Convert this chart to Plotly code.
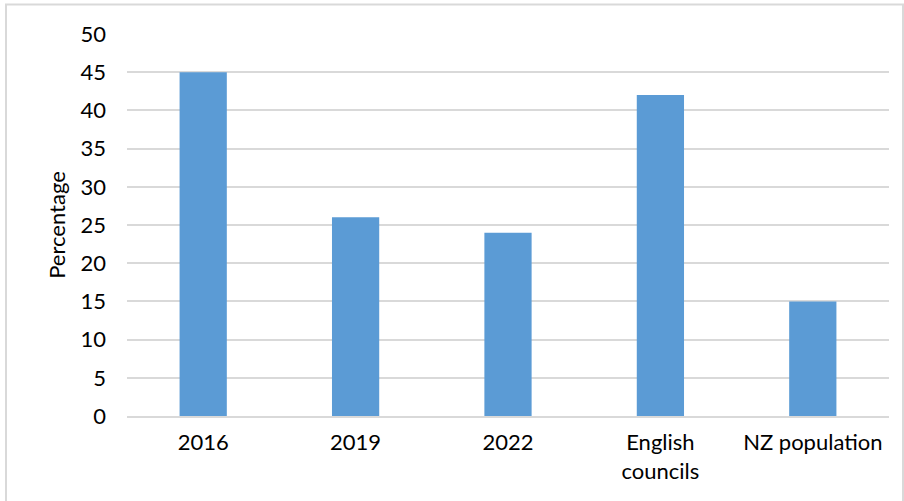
import plotly.graph_objects as go

categories = ["2016", "2019", "2022", "English<br>councils", "NZ population"]
percentages = [45, 26, 24, 42, 15]
y_ticks = [0, 5, 10, 15, 20, 25, 30, 35, 40, 45, 50]

W, H = 904, 501
L, R, T, B = 127, 15, 34, 85
pw, ph = W - L - R, H - T - B
FS = 22

fig = go.Figure(
    go.Bar(
        x=categories,
        y=percentages,
        marker=dict(color="#5B9BD5", line=dict(width=0)),
        hoverinfo="x+y",
    )
)

# outer chart border (bottom edge runs off the page)
fig.add_shape(
    type="rect",
    xref="paper", yref="paper",
    x0=(6 - L) / pw, x1=(903 - L) / pw,
    y0=(416 - 512) / ph, y1=(416 - 4.5) / ph,
    line=dict(color="#D9D9D9", width=2),
    fillcolor="rgba(0,0,0,0)",
    layer="below",
)

fig.update_layout(
    width=W, height=H,
    margin=dict(l=L, r=R, t=T, b=B),
    paper_bgcolor="white",
    plot_bgcolor="white",
    bargap=0.69,
    showlegend=False,
    font=dict(family="Lato, Open Sans, sans-serif", size=FS, color="#000000"),
    xaxis=dict(
        showgrid=False,
        showline=True,
        linecolor="#D9D9D9",
        linewidth=2,
        ticks="",
        ticklabelstandoff=6,
        tickfont=dict(size=FS),
    ),
    yaxis=dict(
        range=[0, 50],
        tickvals=y_ticks,
        showgrid=True,
        gridcolor="#D9D9D9",
        gridwidth=1.5,
        zeroline=False,
        showline=False,
        ticks="",
        ticklabelstandoff=20,
        tickfont=dict(size=FS),
        title=dict(text="Percentage", font=dict(size=FS), standoff=8),
    ),
)

fig.write_html("out.html")
